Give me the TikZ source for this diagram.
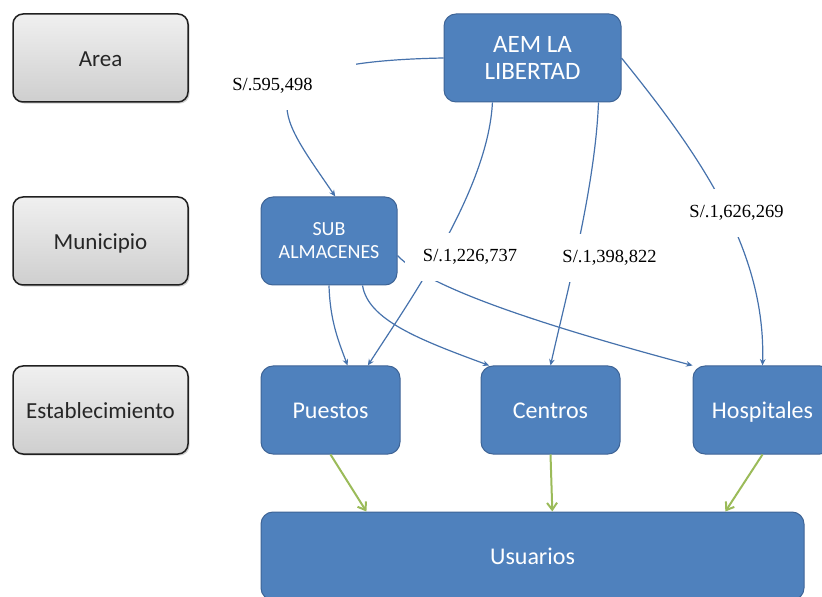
\documentclass[tikz,border=0pt]{standalone}
\usepackage{fontspec}
\setmainfont{Liberation Serif}
\newfontfamily\boxfont{Carlito}
\usetikzlibrary{arrows.meta,shadows}

\definecolor{boxblue}{RGB}{79,129,189}
\definecolor{boxedge}{RGB}{62,100,150}
\definecolor{linkblue}{RGB}{70,114,172}
\definecolor{usegreen}{RGB}{155,187,89}

\tikzstyle{lvl} = [rectangle, rounded corners=5pt, minimum width=87.5pt, minimum height=44pt, draw=gray!25!black, line width=0.75pt, top color=gray!12, bottom color=gray!38, drop shadow={opacity=0.35,shadow xshift=0.8pt,shadow yshift=-0.8pt}, font=\boxfont\fontsize{11.5}{13}\selectfont, text=black!85, text height=2.1ex, text depth=0.3ex]
\tikzstyle{ent} = [rectangle, rounded corners=6pt, minimum height=44pt, fill=boxblue, draw=boxedge, line width=0.5pt, text=white, font=\boxfont\fontsize{12}{13.5}\selectfont, align=center]
\tikzstyle{ent1} = [ent, minimum width=69.5pt, text height=2.1ex, text depth=0.3ex]
\tikzstyle{supply} = [draw=linkblue, line width=0.6pt, -{Stealth[length=3.2pt,width=2.8pt]}]
\tikzstyle{userlink} = [draw=usegreen, line width=1pt, -{Straight Barb[length=3.5pt,width=5pt]}]
\tikzstyle{amt} = [fill=white, inner xsep=9pt, inner ysep=8pt, font=\fontsize{9.25}{11}\selectfont]

\begin{document}
\begin{tikzpicture}[x=0.5pt, y=-0.5pt]
    \useasboundingbox (0,0) rectangle (822,597);
    % levels
    \node[lvl] (area) at (100.5,58) {Area};
    \node[lvl] (muni) at (100.5,241) {Municipio};
    \node[lvl] (estab) at (100.5,410) {Establecimiento};
    % entities
    \node[ent, minimum width=88.5pt, font=\boxfont\fontsize{12.5}{13.5}\selectfont] (aem) at (532.5,58) {AEM LA\\LIBERTAD};
    \node[ent, minimum width=68pt, font=\boxfont\fontsize{10}{11.5}\selectfont] (sub) at (329,241) {SUB\\ALMACENES};
    \node[ent1] (puestos) at (330.5,410) {Puestos};
    \node[ent1] (centros) at (550.5,410) {Centros};
    \node[ent1] (hosp) at (762.5,410) {Hospitales};
    \node[ent1, minimum width=271.5pt] (usu) at (532.5,556) {Usuarios};
    % money flows
    \draw[supply] (aem.west) .. controls (230,62) and (280,115) .. (sub.82);
    \draw[supply] (aem.228) .. controls (488,190) and (410,300) .. (puestos.50);
    \draw[supply] (aem.-34) .. controls (595,190) and (565,300) .. (centros.north);
    \draw[supply] (aem.east) .. controls (700,155) and (766,250) .. (hosp.north);
    \draw[supply] (sub.south) .. controls (330,320) and (338,340) .. (puestos.69);
    \draw[supply] (sub.-53) .. controls (368,320) and (420,340) .. (centros.144);
    \draw[supply] (sub.-12) .. controls (430,290) and (560,330) .. (hosp.north west);
    \draw[userlink] (puestos.south) -- (usu.165);
    \draw[userlink] (centros.south) -- (usu.66);
    \draw[userlink] (hosp.south) -- (usu.13);
    % amounts
    \node[amt, anchor=west, text width=53pt, align=left] (L1) at (214,86) {S/.595,498};
    \node[amt] (L2) at (470,257) {S/.1,226,737};
    \node[amt] (L3) at (609.5,258) {S/.1,398,822};
    \node[amt] (L4) at (736.5,213) {S/.1,626,269};
\end{tikzpicture}
\end{document}
